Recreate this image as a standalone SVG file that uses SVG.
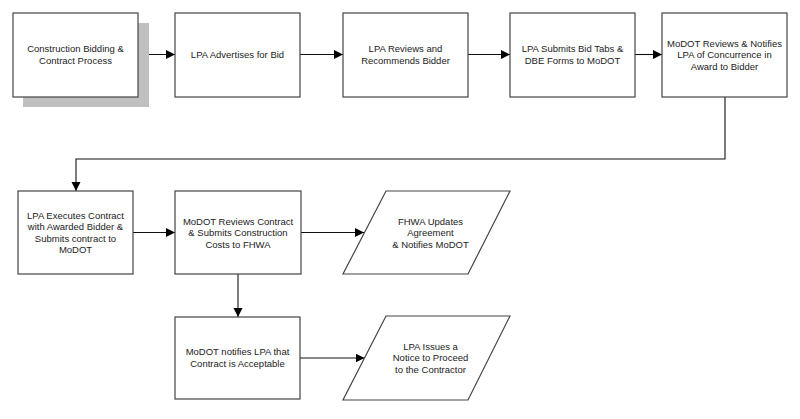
<svg xmlns="http://www.w3.org/2000/svg" width="800" height="419" viewBox="0 0 800 419">
<style>
.box{fill:#fff;stroke:#444;stroke-width:1.2}
.shadow{fill:#c0c0c0;stroke:none}
.lbl{font-family:"Liberation Sans",Arial,sans-serif;font-size:9.5px;fill:#222;text-anchor:middle}
.conn{fill:none;stroke:#111;stroke-width:1.1}
</style>
<defs>
<marker id="arr" markerUnits="userSpaceOnUse" markerWidth="10" markerHeight="10" refX="9" refY="4.5" orient="auto">
<path d="M0,0 L9,4.5 L0,9 z" fill="#000"/>
</marker>
</defs>
<rect x="0" y="0" width="800" height="419" fill="#fff"/>
<g id="connectors">
<path class="conn" d="M138,54.5 H175" marker-end="url(#arr)"/>
<path class="conn" d="M300,54.5 H343" marker-end="url(#arr)"/>
<path class="conn" d="M468,54.5 H510" marker-end="url(#arr)"/>
<path class="conn" d="M635,54.5 H662" marker-end="url(#arr)"/>
<path class="conn" d="M725,97 V159 H76 V191" marker-end="url(#arr)"/>
<path class="conn" d="M133,232.5 H175" marker-end="url(#arr)"/>
<path class="conn" d="M300,232.5 H364" marker-end="url(#arr)"/>
<path class="conn" d="M238,274 V317" marker-end="url(#arr)"/>
<path class="conn" d="M300,358 H364.5" marker-end="url(#arr)"/>
</g>
<g id="n1">
<rect class="shadow" x="23" y="23" width="126" height="84"/>
<rect class="box" x="13" y="13" width="125" height="84"/>
<text class="lbl" x="75.5" y="52">Construction Bidding &amp;</text>
<text class="lbl" x="75.5" y="64">Contract Process</text>
</g>
<g id="n2">
<rect class="box" x="175" y="13" width="125" height="84"/>
<text class="lbl" x="237.5" y="58">LPA Advertises for Bid</text>
</g>
<g id="n3">
<rect class="box" x="343" y="13" width="125" height="84"/>
<text class="lbl" x="405.5" y="52">LPA Reviews and</text>
<text class="lbl" x="405.5" y="64">Recommends Bidder</text>
</g>
<g id="n4">
<rect class="box" x="510" y="13" width="125" height="84"/>
<text class="lbl" x="572.5" y="52">LPA Submits Bid Tabs &amp;</text>
<text class="lbl" x="572.5" y="64">DBE Forms to MoDOT</text>
</g>
<g id="n5">
<rect class="box" x="662" y="13" width="125" height="84"/>
<text class="lbl" x="724.5" y="46.5">MoDOT Reviews &amp; Notifies</text>
<text class="lbl" x="724.5" y="58">LPA of Concurrence in</text>
<text class="lbl" x="724.5" y="69.5">Award to Bidder</text>
</g>
<g id="n6">
<rect class="box" x="18" y="191" width="115" height="83"/>
<text class="lbl" x="75.5" y="218.5">LPA Executes Contract</text>
<text class="lbl" x="75.5" y="230">with Awarded Bidder &amp;</text>
<text class="lbl" x="75.5" y="241.5">Submits contract to</text>
<text class="lbl" x="75.5" y="253">MoDOT</text>
</g>
<g id="n7">
<rect class="box" x="175" y="191" width="126" height="83"/>
<text class="lbl" x="238" y="224.5">MoDOT Reviews Contract</text>
<text class="lbl" x="238" y="236">&amp; Submits Construction</text>
<text class="lbl" x="238" y="247.5">Costs to FHWA</text>
</g>
<g id="n8">
<polygon class="box" points="386,191 510,191 468,274 343,274"/>
<text class="lbl" x="430.5" y="224.5">FHWA Updates</text>
<text class="lbl" x="430.5" y="236">Agreement</text>
<text class="lbl" x="430.5" y="247.5">&amp; Notifies MoDOT</text>
</g>
<g id="n9">
<rect class="box" x="175" y="317" width="125" height="82"/>
<text class="lbl" x="237.5" y="355">MoDOT notifies LPA that</text>
<text class="lbl" x="237.5" y="366.5">Contract is Acceptable</text>
</g>
<g id="n10">
<polygon class="box" points="386,316 510,316 468,400 343,400"/>
<text class="lbl" x="430.5" y="349.5">LPA Issues a</text>
<text class="lbl" x="430.5" y="361">Notice to Proceed</text>
<text class="lbl" x="430.5" y="372.5">to the Contractor</text>
</g>
</svg>
